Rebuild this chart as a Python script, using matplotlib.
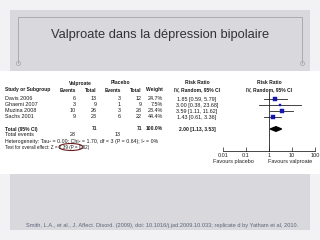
import matplotlib
matplotlib.use("Agg")
import matplotlib.pyplot as plt
from matplotlib.patches import Rectangle, Ellipse
import numpy as np

# ---- data ----
studies = ["Davis 2006", "Ghaemi 2007", "Muzina 2008", "Sachs 2001"]
val_events = [6, 3, 10, 9]
val_total = [13, 9, 26, 23]
pla_events = [3, 1, 3, 6]
pla_total = [12, 9, 28, 22]
weights = [24.7, 7.5, 23.4, 44.4]
rr = [1.85, 3.00, 3.59, 1.43]
ci_low = [0.59, 0.38, 1.11, 0.61]
ci_high = [5.79, 23.68, 11.62, 3.36]
total_rr = 2.00
total_low = 1.13
total_high = 3.53
total_n = [71, 71]
total_events = [28, 13]
axis_ticks = [0.01, 0.1, 1, 10, 100]
axis_labels = ["0.01", "0.1", "1", "10", "100"]

title = "Valproate dans la dépression bipolaire"
citation = ("Smith, L.A., et al., J. Affect. Disord. (2009), doi: 10.1016/j.jad.2009.10.033; "
            "replicate d by Yatham et al, 2010.")

plt.rcParams['font.family'] = ['Liberation Sans', 'DejaVu Sans']

fig = plt.figure(figsize=(3.2, 2.4), dpi=100)
fig.patch.set_facecolor('#f2f2f5')

bg = fig.add_axes([0, 0, 1, 1])
bg.set_xlim(0, 320)
bg.set_ylim(240, 0)
bg.axis('off')

panel = '#d9d9dd'
bg.add_patch(Rectangle((10, 10), 300, 61, facecolor=panel, edgecolor='none'))
bg.add_patch(Rectangle((0, 71), 320, 103, facecolor='white', edgecolor='none'))
bg.add_patch(Rectangle((10, 174), 300, 56, facecolor=panel, edgecolor='none'))
bg.plot([18, 18, 302, 302], [63, 17, 17, 63], color='#a4a4ac', lw=0.6)
bg.plot([18, 302], [63, 63], ls='none', marker='o', ms=3, mfc='none', mec='#a4a4ac', mew=0.5)

bg.text(160, 35, title, ha='center', va='center', fontsize=9.3, color='#333333',
        family=['Liberation Sans Narrow', 'Liberation Sans', 'DejaVu Sans'])
bg.text(162, 225, citation, ha='center', va='center', fontsize=4.1, color='#5a6478')

fs = 3.9
tc = '#1a1a1a'
y_h1, y_h2 = 83, 90
row_y = [99, 105, 111, 117]
y_tot, y_ev, y_het, y_test = 129, 135, 141, 147

def T(x, y, s, ha='left', bold=False, size=fs):
    bg.text(x, y, s, ha=ha, va='center', fontsize=size, color=tc,
            fontweight='bold' if bold else 'normal')

hb = 3.6
T(80, y_h1, "Valproate", ha='center', bold=True, size=hb)
T(120, y_h1, "Placebo", ha='center', bold=True, size=hb)
T(197, y_h1, "Risk Ratio", ha='center', bold=True, size=hb)
T(269, y_h1, "Risk Ratio", ha='center', bold=True, size=hb)
T(5, y_h2, "Study or Subgroup", bold=True, size=hb)
T(76, y_h2, "Events", ha='right', bold=True, size=hb)
T(97, y_h2, "Total", ha='right', bold=True, size=hb)
T(121, y_h2, "Events", ha='right', bold=True, size=hb)
T(142, y_h2, "Total", ha='right', bold=True, size=hb)
T(163, y_h2, "Weight", ha='right', bold=True, size=hb)
T(197, y_h2, "IV, Random, 95% CI", ha='center', bold=True, size=hb)
T(269, y_h2, "IV, Random, 95% CI", ha='center', bold=True, size=hb)

for i, s in enumerate(studies):
    y = row_y[i]
    T(5, y, s)
    T(76, y, str(val_events[i]), ha='right')
    T(97, y, str(val_total[i]), ha='right')
    T(121, y, str(pla_events[i]), ha='right')
    T(142, y, str(pla_total[i]), ha='right')
    T(163, y, f"{weights[i]:.1f}%", ha='right')
    T(197, y, f"{rr[i]:.2f} [{ci_low[i]:.2f}, {ci_high[i]:.2f}]", ha='center')

T(5, y_tot, "Total (95% CI)", bold=True, size=hb)
T(97, y_tot, str(total_n[0]), ha='right', bold=True, size=hb)
T(142, y_tot, str(total_n[1]), ha='right', bold=True, size=hb)
T(163, y_tot, f"{sum(weights):.1f}%", ha='right', bold=True, size=hb)
T(197, y_tot, f"{total_rr:.2f} [{total_low:.2f}, {total_high:.2f}]", ha='center', bold=True, size=hb)
T(5, y_ev, "Total events")
T(76, y_ev, str(total_events[0]), ha='right')
T(121, y_ev, str(total_events[1]), ha='right')
T(5, y_het, "Heterogeneity: Tau² = 0.00; Chi² = 1.70, df = 3 (P = 0.64); I² = 0%", size=3.8)
T(5, y_test, "Test for overall effect: Z = 2.39 (P = 0.02)", size=3.3)
bg.add_patch(Ellipse((71, y_test), 24, 7, facecolor='none', edgecolor='#6b1d1d', lw=0.8))

# ---- forest plot ----
x0, x1 = 223, 315
fa = fig.add_axes([x0 / 320, 0, (x1 - x0) / 320, 1])
fa.set_xscale('log')
fa.set_xlim(0.01, 100)
fa.set_ylim(240, 0)
fa.patch.set_alpha(0)
for sp in ['top', 'right', 'left']:
    fa.spines[sp].set_visible(False)
fa.spines['bottom'].set_position(('data', 151))
fa.spines['bottom'].set_linewidth(0.5)
fa.set_yticks([])
fa.set_xticks(axis_ticks)
fa.set_xticklabels(axis_labels)
fa.xaxis.set_minor_locator(matplotlib.ticker.NullLocator())
fa.tick_params(axis='x', direction='in', length=3, width=0.5, labelsize=4, pad=1.5, colors='#222222')
fa.axvline(1, ymin=(240 - 151) / 240, ymax=(240 - 92) / 240, color='#222222', lw=0.6)

for i in range(len(studies)):
    y = row_y[i]
    fa.plot([ci_low[i], ci_high[i]], [y, y], color='#222222', lw=0.6)
    ms = 1.0 + 2.4 * np.sqrt(weights[i] / max(weights))
    fa.plot([rr[i]], [y], marker='s', ms=ms, color='#1515b0', mec='#1515b0', mew=0.3)

fa.fill([total_low, total_rr, total_high, total_rr], [y_tot, y_tot - 2.3, y_tot, y_tot + 2.3],
        color='black')

bg.text(233, 162, "Favours placebo", ha='center', va='center', fontsize=4, color='#222222')
bg.text(290, 162, "Favours valproate", ha='center', va='center', fontsize=4, color='#222222')

fig.savefig("out.png", dpi=100, facecolor=fig.get_facecolor())
